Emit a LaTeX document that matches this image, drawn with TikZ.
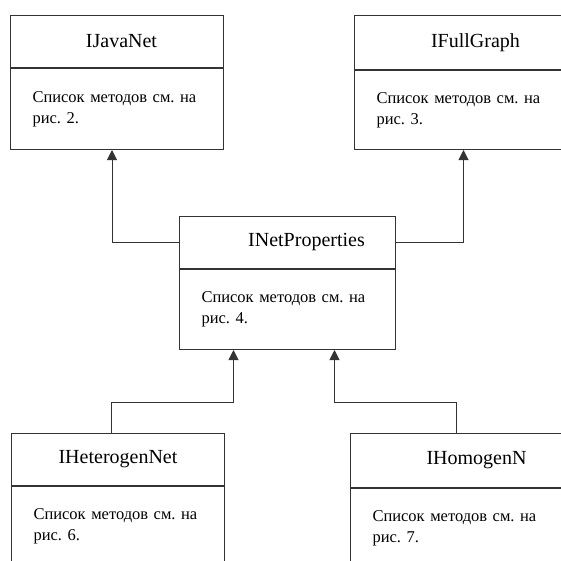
\documentclass[tikz,border=0pt]{standalone}
\usepackage{fontspec}
\setmainfont{Liberation Serif}
\usetikzlibrary{positioning,arrows.meta}
\frenchspacing

\begin{document}
\begin{tikzpicture}[x=1pt,y=-1pt,
    head/.style={draw=black!80, line width=1pt, rectangle, anchor=north west,
        font=\fontsize{20}{22}\selectfont},
    body/.style={draw=black!80, line width=1pt, rectangle, align=left,
        inner xsep=22pt, font=\fontsize{16.5}{21}\selectfont},
    arr/.style={draw=black!80, line width=1pt,
        -{Triangle[width=10pt,length=10pt]}}]
    \useasboundingbox (0,0) rectangle (561,560);
    \clip (0,0) rectangle (561,560);
    % interfaces
    \node[head, minimum width=213pt, minimum height=52pt] (javaH) at (10,15) {\hspace*{9pt}IJavaNet};
    \node[body, below=0pt of javaH, minimum width=213pt, minimum height=81pt,
        text width=169pt] (javaB) {Список методов см. на\\рис. 2.};
    \node[head, minimum width=218pt, minimum height=54pt] (fullH) at (354,15) {\hspace*{24pt}IFullGraph};
    \node[body, below=0pt of fullH, minimum width=218pt, minimum height=79pt,
        text width=174pt] (fullB) {Список методов см. на\\рис. 3.};
    \node[head, minimum width=216pt, minimum height=52pt] (propH) at (179,216) {\hspace*{38pt}INetProperties};
    \node[body, below=0pt of propH, minimum width=216pt, minimum height=80pt,
        text width=172pt] (propB) {Список методов см. на\\рис. 4.};
    \node[head, minimum width=213pt, minimum height=52pt] (heteroH) at (11,433) {IHeterogenNet};
    \node[body, below=0pt of heteroH, minimum width=213pt, minimum height=80pt,
        text width=169pt] (heteroB) {Список методов см. на\\рис. 6.};
    \node[head, minimum width=222pt, minimum height=54pt] (homoH) at (350,433) {\hspace*{30pt}IHomogenN};
    \node[body, below=0pt of homoH, minimum width=222pt, minimum height=80pt,
        text width=178pt] (homoB) {Список методов см. на\\рис. 7.};
    % inheritance
    \draw[arr] (propH.west) -| ([xshift=-5pt]javaB.south);
    \draw[arr] (propH.east) -| (fullB.south);
    \draw[arr] ([xshift=-7pt]heteroH.north) -- ++(0,-31) -| ([xshift=-54pt]propB.south);
    \draw[arr] ([xshift=-5pt]homoH.north) -- ++(0,-31) -| ([xshift=47pt]propB.south);
\end{tikzpicture}
\end{document}
